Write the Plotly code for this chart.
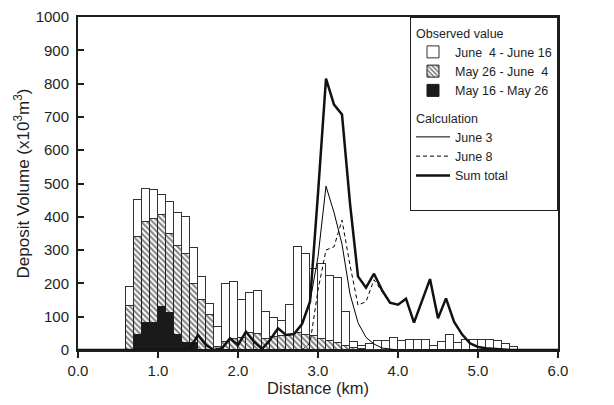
import numpy as np
import plotly.graph_objects as go

# ---- observed deposit per bar (0.1 km bins starting at 0.6 km) ----
bin_left = [round(0.6 + 0.1 * i, 1) for i in range(49)]
# cumulative readings: total (June 16), up to June 4, up to May 26
total_cum = [190, 449, 484, 479, 464, 444, 410, 400, 306, 219,
             139, 70, 198, 203, 149, 170, 178, 114, 97, 86,
             134, 309, 289, 244, 258, 222, 217, 114, 24, 13,
             19, 28, 28, 36, 27, 30, 30, 30, 11, 25,
             45, 21, 29, 30, 31, 30, 27, 17, 10]
june4_cum = [132, 340, 385, 392, 405, 347, 313, 288, 198, 149,
             105, 8, 25, 32, 35, 52, 48, 33, 38, 42,
             45, 50, 44, 43, 33, 28, 20, 13, 7, 3,
             0, 0, 0, 0, 0, 0, 0, 0, 0, 0,
             0, 0, 0, 0, 0, 0, 0, 0, 0]
may26_cum = [0, 46, 82, 82, 130, 110, 45, 22, 22, 0,
             0, 0, 0, 0, 0, 0, 0, 0, 0, 0,
             0, 0, 0, 0, 0, 0, 0, 0, 0, 0,
             0, 0, 0, 0, 0, 0, 0, 0, 0, 0,
             0, 0, 0, 0, 0, 0, 0, 0, 0]

# ---- calculated deposit (points every 0.1 km from 0.0 to 6.0) ----
calc_x = [round(0.1 * i, 1) for i in range(61)]
sum_total = [0, 0, 0, 0, 0, 0, 0, 0, 0, 0,
             0, 0, 0, 0, 5, 45, 15, 0, 5, 35,
             15, 55, 25, 3, 30, 65, 45, 48, 78, 145,
             470, 815, 737, 707, 440, 221, 187, 229, 180, 142,
             136, 154, 82, 145, 213, 95, 155, 85, 47, 20,
             9, 5, 3, 1, 0, 0, 0, 0, 0, 0, 0]
june3 = [0, 0, 0, 0, 0, 0, 0, 0, 0, 0,
         0, 0, 0, 0, 5, 45, 15, 0, 5, 35,
         15, 55, 25, 3, 30, 65, 45, 48, 78, 145,
         280, 492, 413, 318, 168, 82, 38, 18, 6, 2,
         0, 0, 0, 0, 0, 0, 0, 0, 0, 0,
         0, 0, 0, 0, 0, 0, 0, 0, 0, 0, 0]
june8 = [0, 0, 0, 0, 0, 0, 0, 0, 0, 0,
         0, 0, 0, 0, 0, 0, 0, 0, 0, 0,
         0, 0, 0, 0, 0, 0, 0, 0, 0, 20,
         180, 300, 310, 390, 255, 135, 145, 211, 174, 140,
         136, 154, 82, 145, 213, 95, 155, 85, 47, 20,
         9, 5, 3, 1, 0, 0, 0, 0, 0, 0, 0]

tot = np.array(total_cum)
j4 = np.array(june4_cum)
m26 = np.array(may26_cum)
period_may16_may26 = m26
period_may26_june4 = j4 - m26
period_june4_june16 = tot - j4
centers = np.array(bin_left) + 0.05

FONT = "Liberation Sans, Arial, sans-serif"
INK = "#1e1e1e"
fig = go.Figure()

fig.add_trace(go.Bar(
    x=centers, y=period_may16_may26, width=0.1,
    name="May 16 - May 26", legendgroup="obs", legendrank=3,
    legendgrouptitle_text="Observed value",
    marker=dict(color="#1a1a1a", line=dict(color="#1a1a1a", width=1)),
))
fig.add_trace(go.Bar(
    x=centers, y=period_may26_june4, width=0.1,
    name="May 26 - June\u00a0 4", legendgroup="obs", legendrank=2,
    marker=dict(color="white", line=dict(color=INK, width=1),
                pattern=dict(shape="\\", fgcolor="black", bgcolor="white",
                             size=4, solidity=0.5)),
))
fig.add_trace(go.Bar(
    x=centers, y=period_june4_june16, width=0.1,
    name="June\u00a0 4 - June 16", legendgroup="obs", legendrank=1,
    marker=dict(color="white", line=dict(color="#333333", width=1)),
))

fig.add_trace(go.Scatter(
    x=calc_x, y=june3, mode="lines", name="June 3",
    legendgroup="calc", legendrank=4, legendgrouptitle_text="Calculation",
    line=dict(color="black", width=1),
))
fig.add_trace(go.Scatter(
    x=calc_x, y=june8, mode="lines", name="June 8",
    legendgroup="calc", legendrank=5,
    line=dict(color="black", width=1, dash="4px,3px"),
))
fig.add_trace(go.Scatter(
    x=calc_x, y=sum_total, mode="lines", name="Sum total",
    legendgroup="calc", legendrank=6,
    line=dict(color="#111111", width=2.5),
))
# empty legend row: keeps the blank space at the bottom of the legend box
fig.add_trace(go.Scatter(
    x=[None], y=[None], mode="lines", name="\u00a0",
    legendgroup="calc", legendrank=7, hoverinfo="skip",
    line=dict(color="rgba(0,0,0,0)", width=0),
))

fig.update_layout(
    width=614, height=405,
    margin=dict(l=78, r=56, t=8, b=55),
    barmode="stack", bargap=0,
    plot_bgcolor="white", paper_bgcolor="white",
    font=dict(family=FONT, size=15, color=INK),
    legend=dict(
        x=1, xanchor="right", y=1, yanchor="top",
        bordercolor=INK, borderwidth=1, bgcolor="white",
        font=dict(size=12.5, family=FONT, color=INK), traceorder="grouped",
        tracegroupgap=8, itemwidth=34,
        grouptitlefont=dict(size=12.5, family=FONT, color=INK),
    ),
)
fig.update_xaxes(
    range=[0, 6], tickvals=[0, 1, 2, 3, 4, 5, 6],
    ticktext=["0.0", "1.0", "2.0", "3.0", "4.0", "5.0", "6.0"],
    ticks="outside", ticklen=6, tickwidth=1.5, tickcolor=INK,
    showline=True, linewidth=2, linecolor=INK, mirror=True,
    showgrid=False, zeroline=False,
    title=dict(text="Distance (km)", font=dict(size=16.5), standoff=3),
)
fig.update_yaxes(
    range=[0, 1000], dtick=100,
    ticks="inside", ticklen=6, tickwidth=1.5, tickcolor=INK,
    ticklabelstandoff=4,
    showline=True, linewidth=2, linecolor=INK, mirror=True,
    showgrid=False, zeroline=False,
    title=dict(text="Deposit Volume (x10<sup>3</sup>m<sup>3</sup>)",
               font=dict(size=17), standoff=2),
)

# remove the browser's default 8px page margin so the figure sits at (0, 0)
fig.write_html("out.html",
               config={"displayModeBar": False},
               post_script="document.body.style.margin='0px';")
